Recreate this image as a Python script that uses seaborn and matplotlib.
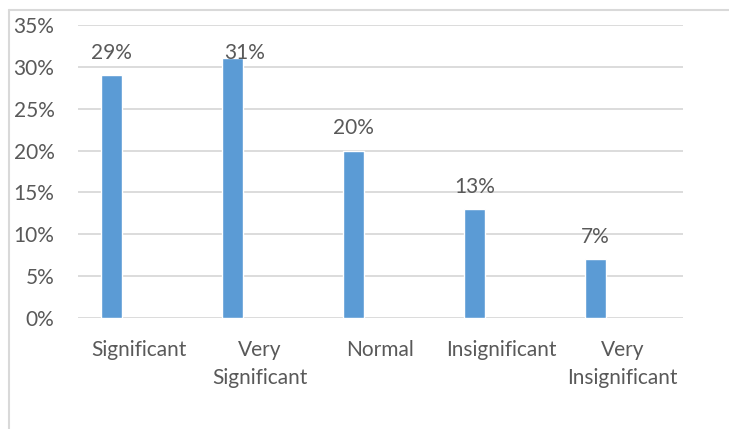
import matplotlib
matplotlib.use("Agg")
import matplotlib.pyplot as plt
from matplotlib.lines import Line2D
from matplotlib.ticker import FuncFormatter, MultipleLocator
import seaborn as sns
import pandas as pd

# Survey responses (share of respondents, %)
categories = ["Significant", "Very\nSignificant", "Normal", "Insignificant", "Very\nInsignificant"]
shares = [29, 31, 20, 13, 7]
series_names = ["Share", "Blank"]

BAR_COLOR = "#5B9BD5"
TEXT_COLOR = "#595959"
GRID_COLOR = "#D9D9D9"
FONT_SIZE = 15

sns.set_theme(style="white")
plt.rcParams["font.family"] = ["Lato", "DejaVu Sans"]

# Excel-style clustered layout: the real series plus an empty companion series
df = pd.DataFrame({
    "category": categories * 2,
    "share": shares + [float("nan")] * len(shares),
    "series": [series_names[0]] * len(shares) + [series_names[1]] * len(shares),
})

fig = plt.figure(figsize=(7.29, 4.29), dpi=100)
ax = fig.add_axes([78 / 729, 1 - 318 / 429, (683 - 78) / 729, (318 - 25) / 429])

sns.barplot(data=df, x="category", y="share", hue="series", hue_order=series_names,
            order=categories, palette=[BAR_COLOR, BAR_COLOR], width=0.89, gap=0.6,
            legend=False, ax=ax, saturation=1, errorbar=None)

ax.set_ylim(0, 35)
ax.set_xlim(-0.5, len(categories) - 0.5)
ax.yaxis.set_major_locator(MultipleLocator(5))
ax.yaxis.set_major_formatter(FuncFormatter(lambda v, _: f"{v:.0f}%"))
ax.grid(axis="y", color=GRID_COLOR, linewidth=1.3)
ax.set_axisbelow(True)
for side in ax.spines.values():
    side.set_visible(False)
ax.set_xlabel("")
ax.set_ylabel("")
ax.tick_params(axis="y", length=0, pad=17, labelsize=FONT_SIZE, labelcolor=TEXT_COLOR)
ax.tick_params(axis="x", length=0, pad=16, labelsize=FONT_SIZE, labelcolor=TEXT_COLOR)
for lbl in ax.get_xticklabels():
    lbl.set_linespacing(1.5)

# Value labels above each bar; the tallest one sits just under the top gridline
for i, (patch, v) in enumerate(zip(ax.patches, shares)):
    cx = patch.get_x() + patch.get_width() / 2
    if v + 2.7 > 31.9:
        ax.text(cx + 0.1, 31.6, f"{v}%", ha="center", va="center",
                fontsize=FONT_SIZE, color=TEXT_COLOR)
    else:
        ax.text(cx, v + 2.7, f"{v}%", ha="center", va="center",
                fontsize=FONT_SIZE, color=TEXT_COLOR)

# Chart-area border (top and left edges)
fig.add_artist(Line2D([9 / 729, 1.0], [1 - 10 / 429, 1 - 10 / 429],
                      transform=fig.transFigure, color=GRID_COLOR, linewidth=1.5))
fig.add_artist(Line2D([9 / 729, 9 / 729], [0.0, 1 - 10 / 429],
                      transform=fig.transFigure, color=GRID_COLOR, linewidth=1.5))

fig.savefig("out.png", dpi=100, facecolor="white")
